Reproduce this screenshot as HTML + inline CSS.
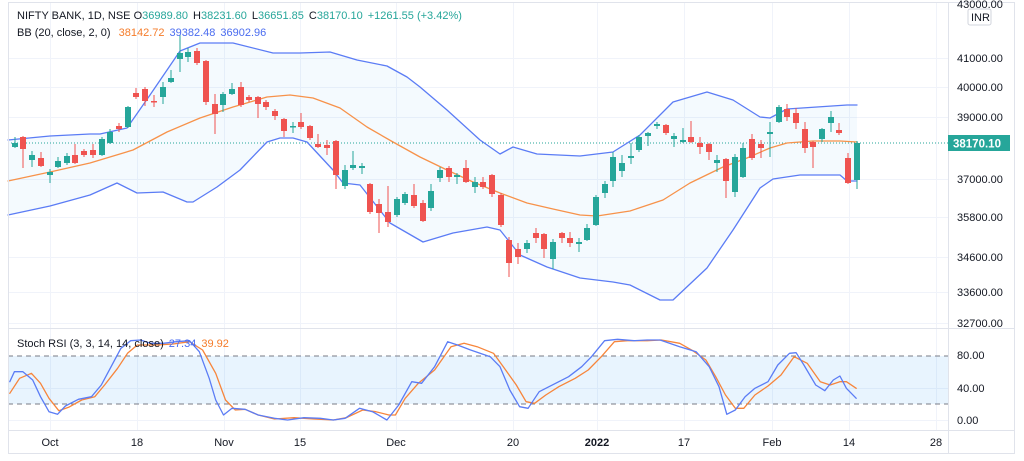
<!DOCTYPE html>
<html><head><meta charset="utf-8"><style>
html,body{margin:0;padding:0;background:#fff;width:1024px;height:461px;overflow:hidden}
svg{display:block;font-family:"Liberation Sans","DejaVu Sans",sans-serif}
polyline{stroke-linejoin:round;stroke-linecap:round}
</style></head><body>
<svg id="s" width="1024" height="461" viewBox="0 0 1024 461" xmlns="http://www.w3.org/2000/svg">
<rect x="0" y="0" width="1024" height="461" fill="#fff"/>
<g id="grid" stroke="#f0f3fa" stroke-width="1"></g>
<polygon id="bbfill" fill="rgba(33,150,243,0.05)"/>
<rect x="8" y="356" width="940" height="48" fill="rgba(33,150,243,0.1)"/>
<line x1="8" y1="356" x2="948" y2="356" stroke="#787b86" stroke-dasharray="5,4" stroke-width="1"/>
<line x1="8" y1="404" x2="948" y2="404" stroke="#787b86" stroke-dasharray="5,4" stroke-width="1"/>
<line x1="8" y1="143" x2="948" y2="143" stroke="#26a69a" stroke-dasharray="1,2" stroke-width="1"/>
<polyline id="up" fill="none" stroke="#5b7cf5" stroke-width="1.3"/>
<polyline id="lo" fill="none" stroke="#5b7cf5" stroke-width="1.3"/>
<polyline id="mid" fill="none" stroke="#f7924a" stroke-width="1.3"/>
<g id="candles"></g>
<polyline id="kd" fill="none" stroke="#f7853b" stroke-width="1.3"/>
<polyline id="kk" fill="none" stroke="#5b7cf5" stroke-width="1.3"/>
<line x1="8.5" y1="2" x2="8.5" y2="453" stroke="#e0e3eb"/>
<line x1="948.5" y1="2" x2="948.5" y2="453" stroke="#e0e3eb"/>
<line x1="1014.5" y1="2" x2="1014.5" y2="453" stroke="#e0e3eb"/>
<line x1="8" y1="2.5" x2="1015" y2="2.5" stroke="#e0e3eb"/>
<line x1="8" y1="328.5" x2="1015" y2="328.5" stroke="#e0e3eb"/>
<line x1="8" y1="430.5" x2="1015" y2="430.5" stroke="#e0e3eb"/>
<line x1="8" y1="453.5" x2="1015" y2="453.5" stroke="#e0e3eb"/>
<g font-size="11" fill="#131722">
<text x="957" y="8">43000.00</text>
<text x="957" y="62">41000.00</text>
<text x="957" y="91">40000.00</text>
<text x="957" y="121">39000.00</text>
<text x="957" y="183">37000.00</text>
<text x="957" y="221">35800.00</text>
<text x="957" y="261">34600.00</text>
<text x="957" y="296">33600.00</text>
<text x="957" y="327">32700.00</text>
<text x="957" y="359">80.00</text>
<text x="957" y="392">40.00</text>
<text x="957" y="424">0.00</text>
</g>
<rect x="968" y="9" width="23" height="16" rx="2" fill="#fff" stroke="#d1d4dc"/>
<text x="971" y="21" font-size="11" fill="#131722">INR</text>
<rect x="948" y="135" width="62" height="16" fill="#26a69a"/>
<text x="953" y="147.5" font-size="11.5" font-weight="bold" fill="#fff">38170.10</text>
<g font-size="11" fill="#131722" text-anchor="middle">
<text x="50" y="446">Oct</text><text x="137" y="446">18</text><text x="224" y="446">Nov</text>
<text x="300" y="446">15</text><text x="396" y="446">Dec</text><text x="513" y="446">20</text>
<text x="597" y="446" font-weight="bold">2022</text><text x="684" y="446">17</text>
<text x="772" y="446">Feb</text><text x="849" y="446">14</text><text x="936" y="446">28</text>
</g>
<g font-size="11">
<text x="17" y="19" fill="#131722">NIFTY BANK, 1D, NSE <tspan fill="#131722" dx="0">O</tspan><tspan fill="#26a69a">36989.80</tspan><tspan dx="5" fill="#131722">H</tspan><tspan fill="#26a69a">38231.60</tspan><tspan dx="5" fill="#131722">L</tspan><tspan fill="#26a69a">36651.85</tspan><tspan dx="5" fill="#131722">C</tspan><tspan fill="#26a69a">38170.10</tspan><tspan dx="5" fill="#26a69a">+1261.55 (+3.42%)</tspan></text>
<text x="17" y="36" fill="#131722">BB (20, close, 2, 0) <tspan dx="5" fill="#f57c2a">38142.72</tspan><tspan dx="5" fill="#4a6cf0">39382.48</tspan><tspan dx="5" fill="#4a6cf0">36902.96</tspan></text>
<text x="17" y="347" fill="#131722">Stoch RSI (3, 3, 14, 14, close) <tspan dx="2" fill="#4a6cf0">27.34</tspan><tspan dx="5" fill="#f57c2a">39.92</tspan></text>
</g>
</svg>
<script>
var NS="http://www.w3.org/2000/svg";
function el(t,a,p){var e=document.createElementNS(NS,t);for(var k in a)e.setAttribute(k,a[k]);p.appendChild(e);return e;}
var g=document.getElementById('grid');
[50,137,224,300,396,513,597,684,772,849,936].forEach(function(x){el('line',{x1:x+.5,y1:3,x2:x+.5,y2:430},g);});
[58,87,117,179,217,257,292,323,388,420].forEach(function(y){el('line',{x1:8,y1:y+.5,x2:948,y2:y+.5},g);});
var up=[[8,140],[50,136],[90,134],[100,134],[127,128],[150,95],[180,51],[200,43],[233,43],[273,53],[300,53],[330,52],[357,60],[387,66],[407,77],[420,87],[447,110],[480,140],[500,154],[513,147],[537,154],[580,156],[613,152],[640,135],[673,102],[707,92],[733,100],[760,117],[770,118],[787,109],[847,105],[857,105]];
var lo=[[8,215],[50,206],[90,195],[117,183],[137,193],[163,192],[187,202],[193,202],[217,187],[240,170],[267,142],[280,138],[293,138],[307,142],[333,170],[343,183],[360,185],[390,223],[423,242],[453,233],[487,227],[500,230],[520,255],[547,267],[580,278],[613,282],[630,285],[660,300],[673,300],[707,268],[733,230],[760,188],[773,179],[800,175],[840,175],[847,181],[857,181]];
var mid=[[8,181],[50,172],[90,163],[133,150],[167,132],[200,118],[233,107],[267,97],[290,95],[313,98],[340,108],[367,127],[393,142],[420,157],[447,170],[473,182],[500,193],[527,203],[553,209],[580,215],[597,216],[630,211],[663,200],[690,183],[723,167],[747,158],[770,148],[787,143],[813,141],[840,141],[857,142]];
function pts(a){return a.map(function(p){return p[0]+','+p[1];}).join(' ');}
document.getElementById('up').setAttribute('points',pts(up));
document.getElementById('lo').setAttribute('points',pts(lo));
document.getElementById('mid').setAttribute('points',pts(mid));
document.getElementById('bbfill').setAttribute('points',pts(up.concat(lo.slice().reverse())));
var C=[[15,143,147,137,148,1],[23,137,149,136,168,0],[32,155,160,151,167,1],[41,158,166,152,167,0],[50,172,175,169,183,1],[58,161,167,157,168,1],[67,156,163,153,165,1],[75,155,163,144,164,0],[84,151,155,149,157,0],[93,150,155,144,158,0],[102,139,155,137,156,1],[110,132,143,129,144,1],[119,126,129,123,132,0],[128,107,127,106,128,1],[136,93,97,88,99,0],[145,89,101,87,106,0],[154,101,102,95,107,0],[163,87,97,82,104,1],[171,78,82,70,83,1],[180,53,59,35,72,1],[188,52,57,48,62,1],[197,51,63,48,65,0],[206,61,102,60,105,0],[215,104,114,94,134,0],[223,94,105,92,112,1],[232,89,94,83,95,1],[241,87,105,82,107,0],[249,97,100,95,102,0],[258,97,104,96,118,0],[266,102,107,100,110,0],[275,111,116,109,120,0],[284,119,131,118,137,0],[293,126,127,122,133,1],[301,122,127,113,129,0],[310,126,138,125,140,0],[318,144,147,134,148,0],[327,145,148,140,155,0],[336,141,175,140,189,0],[345,170,186,165,189,1],[353,165,168,151,170,1],[362,166,168,163,174,1],[370,184,212,183,214,0],[379,204,213,199,233,0],[388,212,222,186,227,0],[397,199,215,197,217,1],[405,194,203,192,205,1],[414,195,206,184,208,0],[423,203,221,200,222,0],[431,191,208,184,211,1],[440,170,178,167,182,1],[449,168,177,166,182,0],[457,175,177,173,184,1],[466,168,182,160,183,0],[475,182,187,177,193,1],[483,182,187,177,189,0],[492,175,194,174,197,0],[501,195,225,193,227,0],[509,240,263,237,277,0],[518,249,257,243,264,0],[527,243,249,240,253,1],[536,233,238,228,243,0],[544,234,249,233,258,0],[553,242,259,239,269,1],[562,233,238,232,243,0],[570,238,243,232,247,0],[579,242,244,238,252,1],[587,228,240,224,241,1],[596,197,225,195,226,1],[605,184,193,181,198,1],[613,157,181,152,187,1],[622,163,171,155,177,1],[631,156,158,143,164,1],[639,137,150,135,152,1],[648,133,136,132,146,1],[657,124,126,122,129,1],[666,125,133,124,135,0],[674,136,139,133,147,1],[683,140,142,128,143,1],[691,137,142,121,143,0],[700,143,147,137,154,0],[709,144,152,143,160,0],[717,160,163,155,172,1],[726,159,181,158,198,0],[735,157,192,154,197,1],[743,148,177,143,178,1],[752,139,158,134,160,0],[761,144,148,140,158,0],[770,132,134,122,157,1],[779,107,122,105,123,1],[787,109,117,104,121,0],[796,113,123,108,129,0],[805,129,148,122,153,0],[813,142,147,141,168,0],[822,129,139,128,142,1],[831,117,123,111,132,1],[839,130,133,123,135,0],[848,158,183,153,184,0],[857,143,180,141,189,1]];
var cg=document.getElementById('candles');
C.forEach(function(c){var col=c[5]?'#26a69a':'#ef5350';
el('line',{x1:c[0],y1:c[3],x2:c[0],y2:c[4],stroke:col,'stroke-width':1},cg);
var h=Math.max(1.5,c[2]-c[1]);el('rect',{x:c[0]-3,y:c[1],width:6,height:h,fill:col},cg);});
var K=[[15,185],[22,155],[35,155],[50,180],[62,230],[75,275],[88,283],[100,258],[120,238],[140,230],[155,195],[170,140],[185,85],[200,62],[215,60],[230,70],[250,70],[270,65],[290,62],[305,95],[320,175],[330,240],[342,285],[355,265],[375,268],[395,285],[420,295],[440,300],[465,293],[490,295],[510,300],[528,295],[550,265],[570,275],[592,300],[610,255],[630,185],[645,190],[665,140],[685,65],[700,75],[720,90],[750,110],[765,140],[780,210],[795,260],[808,265],[825,215],[840,200],[870,170],[890,140],[905,110],[925,62],[945,58],[970,62],[990,60],[1010,60],[1040,80],[1065,95],[1085,140],[1100,200],[1112,283],[1125,270],[1140,230],[1155,205],[1175,185],[1190,135],[1208,100],[1218,98],[1230,135],[1248,195],[1262,212],[1275,180],[1285,168],[1295,205],[1310,235]];
var D=[[15,220],[30,175],[48,160],[62,190],[75,235],[90,272],[105,262],[125,240],[145,230],[160,195],[180,145],[195,100],[210,75],[225,75],[240,75],[265,72],[290,65],[310,90],[330,160],[345,240],[360,270],[375,268],[395,285],[420,297],[450,293],[480,297],[510,300],[530,293],[555,270],[575,275],[595,285],[605,285],[620,235],[640,190],[665,150],[690,80],[710,70],[730,80],[755,100],[770,140],[790,195],[805,245],[818,250],[835,225],[855,200],[880,175],[900,150],[920,110],[940,65],[960,62],[990,62],[1012,60],[1040,70],[1060,92],[1080,120],[1095,170],[1110,225],[1125,265],[1138,265],[1155,225],[1175,198],[1195,165],[1215,110],[1235,130],[1255,185],[1270,195],[1285,185],[1295,185],[1310,205]];
function cv(a){return a.map(function(p){return [Math.max(8,+(p[0]/1.53).toFixed(1)),+(320+p[1]/3).toFixed(1)];});}
document.getElementById('kk').setAttribute('points',pts(cv(K)));
document.getElementById('kd').setAttribute('points',pts(cv(D)));
</script>
</body></html>
